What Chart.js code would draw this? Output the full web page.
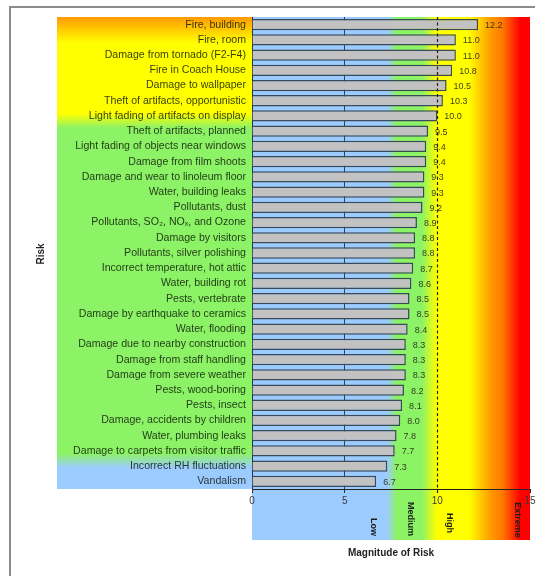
<!DOCTYPE html>
<html>
<head>
<meta charset="utf-8">
<script src="https://cdn.jsdelivr.net/npm/chart.js@4/dist/chart.umd.min.js"></script>
<style>
  html, body { margin: 0; padding: 0; background: #ffffff; }
  #risk { display: block; }
</style>
</head>
<body>
<canvas id="risk" width="535" height="576"></canvas>
<script>
// Risk categories, highest magnitude first
const categories = [
  'Fire, building',
  'Fire, room',
  'Damage from tornado (F2-F4)',
  'Fire in Coach House',
  'Damage to wallpaper',
  'Theft of artifacts, opportunistic',
  'Light fading of artifacts on display',
  'Theft of artifacts, planned',
  'Light fading of objects near windows',
  'Damage from film shoots',
  'Damage and wear to linoleum floor',
  'Water, building leaks',
  'Pollutants, dust',
  'Pollutants, SO\u2082, NO\u2093, and Ozone',
  'Damage by visitors',
  'Pollutants, silver polishing',
  'Incorrect temperature, hot attic',
  'Water, building rot',
  'Pests, vertebrate',
  'Damage by earthquake to ceramics',
  'Water, flooding',
  'Damage due to nearby construction',
  'Damage from staff handling',
  'Damage from severe weather',
  'Pests, wood-boring',
  'Pests, insect',
  'Damage, accidents by children',
  'Water, plumbing leaks',
  'Damage to carpets from visitor traffic',
  'Incorrect RH fluctuations',
  'Vandalism'
];

// Magnitude of risk for each category
const riskValues = [
  12.2, 11.0, 11.0, 10.8, 10.5, 10.3, 10.0, 9.5, 9.4, 9.4,
  9.3, 9.3, 9.2, 8.9, 8.8, 8.8, 8.7, 8.6, 8.5, 8.5,
  8.4, 8.3, 8.3, 8.3, 8.2, 8.1, 8.0, 7.8, 7.7, 7.3,
  6.7
];

// Magnitude axis ticks
const magnitudeTicks = [0, 5, 10, 15];

// Risk bands along the magnitude axis
const bandNames = ['Low', 'Medium', 'High', 'Extreme'];

// Threshold marked by the dashed line
const threshold = 10;

const FONT = "'Liberation Sans', Arial, sans-serif";
const NARROW = "'Liberation Sans Narrow', 'Liberation Sans', Arial, sans-serif";

// Backgrounds: outer frame, label panel and colour-banded magnitude area
const backdropPlugin = {
  id: 'backdrop',
  beforeDraw(chart) {
    const { ctx, chartArea } = chart;
    ctx.save();

    // outer frame
    ctx.strokeStyle = '#8c8c8c';
    ctx.lineWidth = 2;
    ctx.strokeRect(10, 7, 700, 700);

    // label panel, vertical gradient
    const panelLeft = 57;
    const lg = ctx.createLinearGradient(0, chartArea.top, 0, chartArea.bottom);
    lg.addColorStop(0.00, '#ff9a00');
    lg.addColorStop(0.055, '#ffff00');
    lg.addColorStop(0.205, '#ffff00');
    lg.addColorStop(0.235, '#8cf266');
    lg.addColorStop(0.925, '#8cf266');
    lg.addColorStop(0.955, '#9ccbff');
    lg.addColorStop(1.00, '#9ccbff');
    ctx.fillStyle = lg;
    ctx.fillRect(panelLeft, chartArea.top, chartArea.left - panelLeft, chartArea.bottom - chartArea.top);

    // magnitude area, horizontal gradient (continues below the axis)
    const bandBottom = 540;
    const hg = ctx.createLinearGradient(chartArea.left, 0, chartArea.right, 0);
    hg.addColorStop(0.00, '#9ccbff');
    hg.addColorStop(0.485, '#9ccbff');
    hg.addColorStop(0.52, '#8cf266');
    hg.addColorStop(0.61, '#8cf266');
    hg.addColorStop(0.665, '#ffff00');
    hg.addColorStop(0.78, '#ffff00');
    hg.addColorStop(0.86, '#ff9a00');
    hg.addColorStop(0.90, '#ff7a00');
    hg.addColorStop(0.965, '#ff0000');
    hg.addColorStop(1.00, '#ff0000');
    ctx.fillStyle = hg;
    ctx.fillRect(chartArea.left, chartArea.top, chartArea.right - chartArea.left, bandBottom - chartArea.top);

    ctx.restore();
  }
};

// Value labels, threshold line, band names and the vertical axis title
const overlayPlugin = {
  id: 'overlay',
  afterDatasetsDraw(chart) {
    const { ctx, chartArea } = chart;
    const xs = chart.scales.x;
    const meta = chart.getDatasetMeta(0);
    ctx.save();

    ctx.font = '9px ' + NARROW;
    ctx.fillStyle = 'rgba(40,45,20,0.9)';
    ctx.textAlign = 'left';
    ctx.textBaseline = 'middle';
    meta.data.forEach((bar, i) => {
      ctx.fillText(riskValues[i].toFixed(1), bar.x + 7, bar.y + 1);
    });

    // dashed threshold line
    const tx = Math.round(xs.getPixelForValue(threshold)) + 0.5;
    ctx.strokeStyle = '#1e1e1e';
    ctx.lineWidth = 1.2;
    ctx.setLineDash([3, 2.5]);
    ctx.beginPath();
    ctx.moveTo(tx, chartArea.top);
    ctx.lineTo(tx, chartArea.bottom + 4);
    ctx.stroke();
    ctx.setLineDash([]);

    ctx.restore();
  },
  afterDraw(chart) {
    const { ctx } = chart;
    const xs = chart.scales.x;
    ctx.save();

    // band names, rotated to read downward
    const bandSpots = [
      { at: 6.55, y: 527 },
      { at: 8.55, y: 519 },
      { at: 10.65, y: 523 },
      { at: 14.3, y: 520 }
    ];
    ctx.font = 'bold 9px ' + FONT;
    ctx.fillStyle = '#1c1c1c';
    ctx.textAlign = 'center';
    ctx.textBaseline = 'middle';
    bandNames.forEach((name, i) => {
      const s = bandSpots[i];
      ctx.save();
      ctx.translate(xs.getPixelForValue(s.at), s.y);
      ctx.rotate(Math.PI / 2);
      ctx.fillText(name, 0, 0);
      ctx.restore();
    });

    // vertical axis title
    ctx.font = 'bold 10px ' + FONT;
    ctx.fillStyle = '#222';
    ctx.save();
    ctx.translate(41, 254);
    ctx.rotate(-Math.PI / 2);
    ctx.fillText('Risk', 0, 0);
    ctx.restore();

    ctx.restore();
  }
};

new Chart(document.getElementById('risk'), {
  type: 'bar',
  data: {
    labels: categories,
    datasets: [{
      data: riskValues,
      backgroundColor: '#c2c2c2',
      borderColor: '#3a4a58',
      borderWidth: 1.5,
      barPercentage: 0.74,
      categoryPercentage: 1.0
    }]
  },
  options: {
    indexAxis: 'y',
    responsive: false,
    animation: false,
    events: [],
    layout: { padding: { left: 57, right: 5, top: 17, bottom: 0 } },
    plugins: {
      legend: { display: false },
      tooltip: { enabled: false }
    },
    scales: {
      x: {
        type: 'linear',
        min: magnitudeTicks[0],
        max: magnitudeTicks[magnitudeTicks.length - 1],
        afterBuildTicks(scale) {
          scale.ticks = magnitudeTicks.map(v => ({ value: v }));
        },
        afterFit(scale) {
          scale.height = 87;
          scale.paddingLeft = 0;
          scale.paddingRight = 0;
        },
        ticks: {
          font: { family: FONT, size: 10 },
          color: '#3a3a3a',
          padding: 2,
          maxRotation: 0
        },
        grid: {
          color: ctx => (ctx.tick && ctx.tick.value === 5) ? '#34424e' : 'rgba(0,0,0,0)',
          tickColor: '#2a2a2a',
          tickLength: 4,
          lineWidth: 1
        },
        border: { display: true, color: '#222', width: 1 },
        title: {
          display: true,
          text: 'Magnitude of Risk',
          font: { family: FONT, size: 10, weight: 'bold' },
          color: '#222',
          padding: { top: 0, bottom: 17 }
        }
      },
      y: {
        type: 'category',
        afterFit(scale) {
          scale.width = 195;
          scale.paddingTop = 0;
          scale.paddingBottom = 0;
        },
        ticks: {
          autoSkip: false,
          font: { family: FONT, size: 10.6 },
          color: 'rgba(10,20,5,0.82)',
          padding: 6
        },
        grid: { display: false, drawTicks: false },
        border: { display: true, color: '#2a3440', width: 1 }
      }
    }
  },
  plugins: [backdropPlugin, overlayPlugin]
});
</script>
</body>
</html>
